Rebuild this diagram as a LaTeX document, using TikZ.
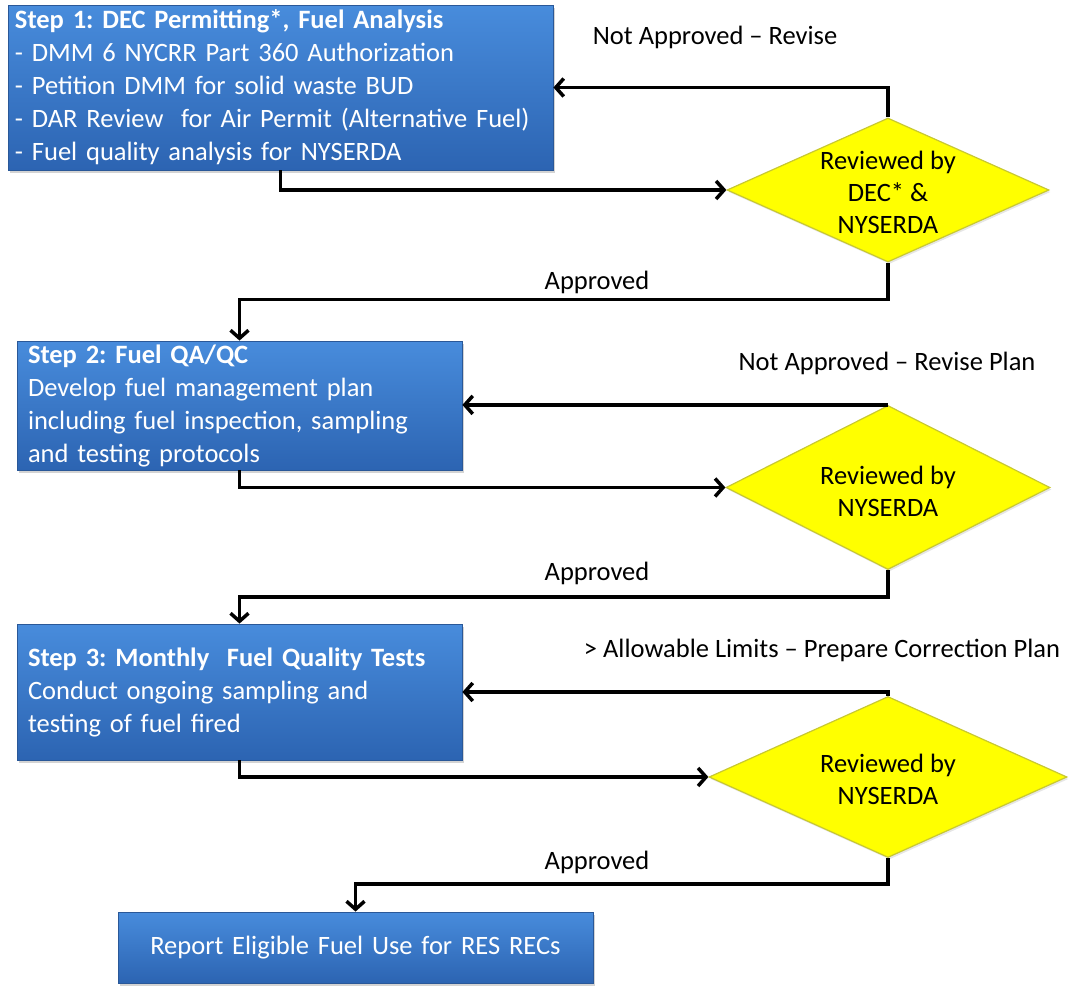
\documentclass[tikz,border=0pt]{standalone}
\usepackage{fontspec}
\setmainfont{Carlito}
\frenchspacing
\usetikzlibrary{shapes.geometric,arrows.meta,shadows}
\definecolor{boxtop}{RGB}{72,140,220}
\definecolor{boxbot}{RGB}{44,100,178}
\definecolor{boxedge}{RGB}{42,88,152}
\definecolor{dfill}{RGB}{255,255,0}
\definecolor{dedge}{RGB}{200,200,50}
\begin{document}
\begin{tikzpicture}[x=1pt,y=-1pt,
  stepbox/.style={draw=boxedge, line width=0.8pt, top color=boxtop, bottom color=boxbot,
    text=white, align=left, inner ysep=0pt, font=\fontsize{26.5}{33}\selectfont\frenchspacing,
    drop shadow={shadow xshift=2pt, shadow yshift=-3pt, opacity=0.35}},
  decision/.style={diamond, draw=dedge, line width=1.2pt, fill=dfill, inner sep=0pt,
    drop shadow={shadow xshift=1.5pt, shadow yshift=-2pt, opacity=0.2}},
  dtext/.style={align=center, font=\fontsize{26.5}{32}\selectfont, text=black, inner sep=0pt},
  lbl/.style={font=\fontsize{26.5}{32}\selectfont, text=black, inner sep=0pt},
  arr/.style={line width=3.5pt, -{Straight Barb[length=8pt,width=18pt]}}
]
\useasboundingbox (0,0) rectangle (1088,988);

% boxes
\node[stepbox, minimum height=165pt, text width=531pt, inner xsep=7pt] (b1) at (280.5,87.5)
 {\textbf{Step 1: DEC Permitting*, Fuel Analysis}\\
  - DMM 6 NYCRR Part 360 Authorization\\
  - Petition DMM for solid waste BUD\\
  - DAR Review~ for Air Permit (Alternative Fuel)\\
  - Fuel quality analysis for NYSERDA};
\node[stepbox, minimum height=129pt, text width=423pt, inner xsep=11pt] (b2) at (239.5,405.5)
 {\textbf{Step 2: Fuel QA/QC}\\
  Develop fuel management plan\\
  including fuel inspection, sampling\\
  and testing protocols};
\node[stepbox, minimum height=136pt, text width=423pt, inner xsep=11pt] (b3) at (239.5,692)
 {\textbf{Step 3: Monthly~ Fuel Quality Tests}\\
  Conduct ongoing sampling and\\
  testing of fuel fired};
\node[stepbox, align=center, minimum height=71pt, text width=455pt, inner xsep=10pt] (b4) at (355.5,947.5)
 {Report Eligible Fuel Use for RES RECs};

% decisions
\node[decision, minimum width=322pt, minimum height=144pt] (d1) at (888,190) {};
\node[dtext] (t1) at (888,192) {Reviewed by\\DEC* \&\\NYSERDA};
\node[decision, minimum width=324pt, minimum height=164pt] (d2) at (888,487.5) {};
\node[dtext] (t2) at (888,491) {Reviewed by\\NYSERDA};
\node[decision, minimum width=358pt, minimum height=161pt] (d3) at (888,777) {};
\node[dtext] (t3) at (888,779) {Reviewed by\\NYSERDA};

% labels
\node[lbl] (n1) at (715,37) {Not Approved \textendash\ Revise};
\node[lbl] (n2) at (887,363) {Not Approved \textendash\ Revise Plan};
\node[lbl] (n3) at (822,650) {> Allowable Limits \textendash\ Prepare Correction Plan};
\node[lbl] (a1) at (597,282) {Approved};
\node[lbl] (a2) at (597,573) {Approved};
\node[lbl] (a3) at (597,862) {Approved};

% connectors
\draw[arr] (b1.south) |- (d1.west);
\draw[arr] (d1.north) |- (b1.east);
\draw[arr] (d1.south) -- ++(0,37) -| (b2.north);

\draw[arr] (b2.south) |- (d2.west);
\draw[arr] (d2.north) -- (d2.north -| b2.east);
\draw[arr] (d2.south) -- ++(0,27) -| (b3.north);

\draw[arr] (b3.south) |- (d3.west);
\draw[arr] (d3.north) |- (b3.east);
\draw[arr] (d3.south) -- ++(0,26) -| (b4.north);
\end{tikzpicture}
\end{document}
